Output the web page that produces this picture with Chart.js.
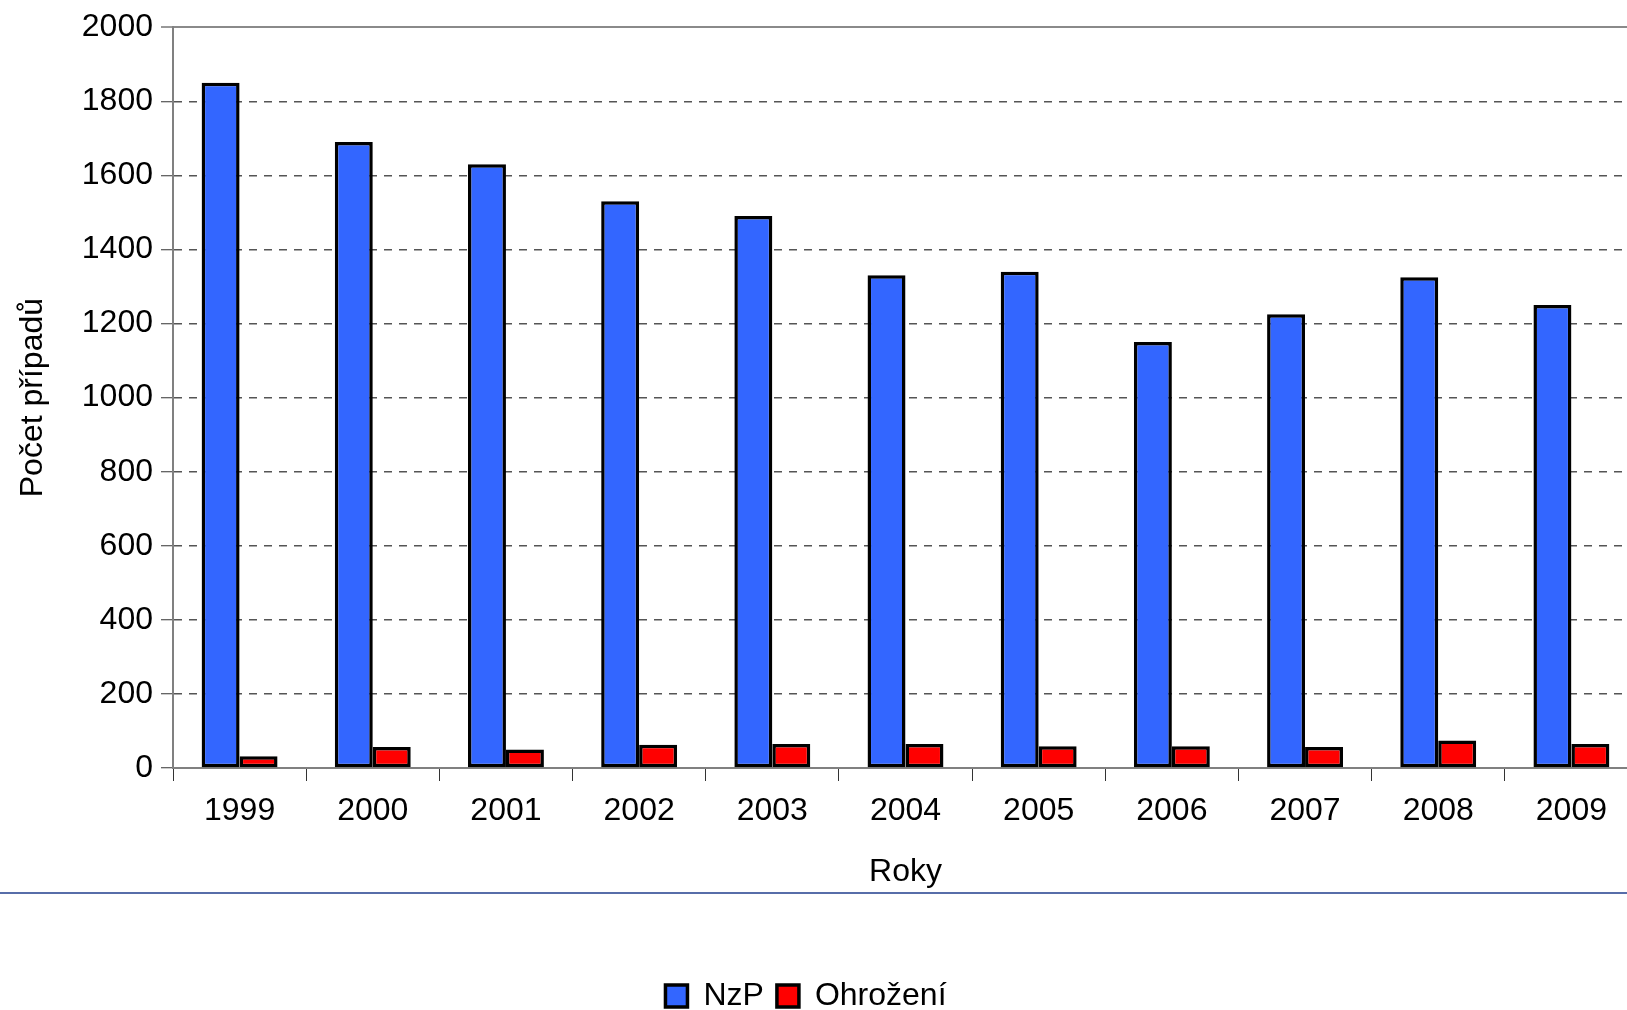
<!DOCTYPE html>
<html>
<head>
<meta charset="utf-8">
<script src="https://cdn.jsdelivr.net/npm/chart.js@4.4.1/dist/chart.umd.min.js"></script>
<style>
  html, body { margin: 0; padding: 0; background: #ffffff; overflow: hidden; width: 1627px; height: 1010px; }
  canvas { display: block; }
</style>
</head>
<body>
<canvas id="c" width="1638" height="1022" style="width:1638px;height:1022px"></canvas>
<script>
const years = ['1999', '2000', '2001', '2002', '2003', '2004', '2005', '2006', '2007', '2008', '2009'];
const nzp = [1850, 1690, 1630, 1530, 1490, 1330, 1340, 1150, 1225, 1325, 1250];
const ohrozeni = [32, 57, 50, 63, 65, 65, 59, 59, 57, 74, 65];
const seriesLabels = ['NzP', 'Ohrožení'];
const yTitle = 'Počet případů';
const xTitle = 'Roky';

const FONT = "'Liberation Sans', Arial, sans-serif";

const separatorPlugin = {
  id: 'separator',
  afterLayout(chart) {
    const lg = chart.legend;
    if (lg) { lg.left -= 13; lg.right -= 13; }
  },
  afterDraw(chart) {
    const ctx = chart.ctx;
    ctx.save();
    ctx.strokeStyle = '#1f3d8c';
    ctx.lineWidth = 1.5;
    ctx.beginPath();
    ctx.moveTo(0, 893);
    ctx.lineTo(chart.width, 893);
    ctx.stroke();
    ctx.restore();
  }
};

new Chart(document.getElementById('c'), {
  type: 'bar',
  data: {
    labels: years,
    datasets: [
      { label: seriesLabels[0], data: nzp, backgroundColor: '#3366ff', borderColor: '#000000', borderWidth: 3.5, borderSkipped: false },
      { label: seriesLabels[1], data: ohrozeni, backgroundColor: '#ff0000', borderColor: '#000000', borderWidth: 3.5, borderSkipped: false }
    ]
  },
  options: {
    responsive: false,
    devicePixelRatio: 1,
    animation: false,
    layout: { padding: { top: 26, left: 0, right: 0, bottom: 0 } },
    datasets: { bar: { barPercentage: 1, categoryPercentage: 0.57 } },
    plugins: {
      legend: {
        position: 'bottom',
        labels: {
          font: { family: FONT, size: 32 },
          color: '#000000',
          boxWidth: 22,
          boxHeight: 22,
          padding: 13
        }
      },
      tooltip: { enabled: false }
    },
    scales: {
      x: {
        grid: {
          offset: true,
          drawOnChartArea: false,
          drawTicks: true,
          tickLength: 13,
          tickColor: '#333333',
          tickWidth: 1
        },
        border: { display: true, color: '#808080', width: 2 },
        ticks: { font: { family: FONT, size: 32 }, color: '#000000', padding: 11, maxRotation: 0 },
        title: { display: true, text: xTitle, font: { family: FONT, size: 32 }, color: '#000000', padding: { top: 0, bottom: 76 } },
        afterFit(scale) { scale.height = 199; }
      },
      y: {
        min: 0,
        max: 2000,
        ticks: {
          stepSize: 200,
          font: { family: FONT, size: 32 },
          color: '#000000',
          padding: 8,
          callback: (v) => String(v)
        },
        grid: {
          color: (c) => (c.tick && c.tick.value === 2000) ? '#8a8a8a' : '#555555',
          lineWidth: (c) => (c.tick && c.tick.value === 2000) ? 2 : 1.5,
          drawTicks: true,
          tickLength: 12,
          tickColor: '#333333',
          tickWidth: 1
        },
        border: {
          display: true,
          color: '#808080',
          width: 2,
          dash: (c) => (c.tick && c.tick.value === 2000) ? [] : [8, 7]
        },
        title: { display: true, text: yTitle, font: { family: FONT, size: 32 }, color: '#000000', padding: { top: 14, bottom: 0 } },
        afterFit(scale) { scale.width = 173; }
      }
    }
  },
  plugins: [separatorPlugin]
});
</script>
</body>
</html>
